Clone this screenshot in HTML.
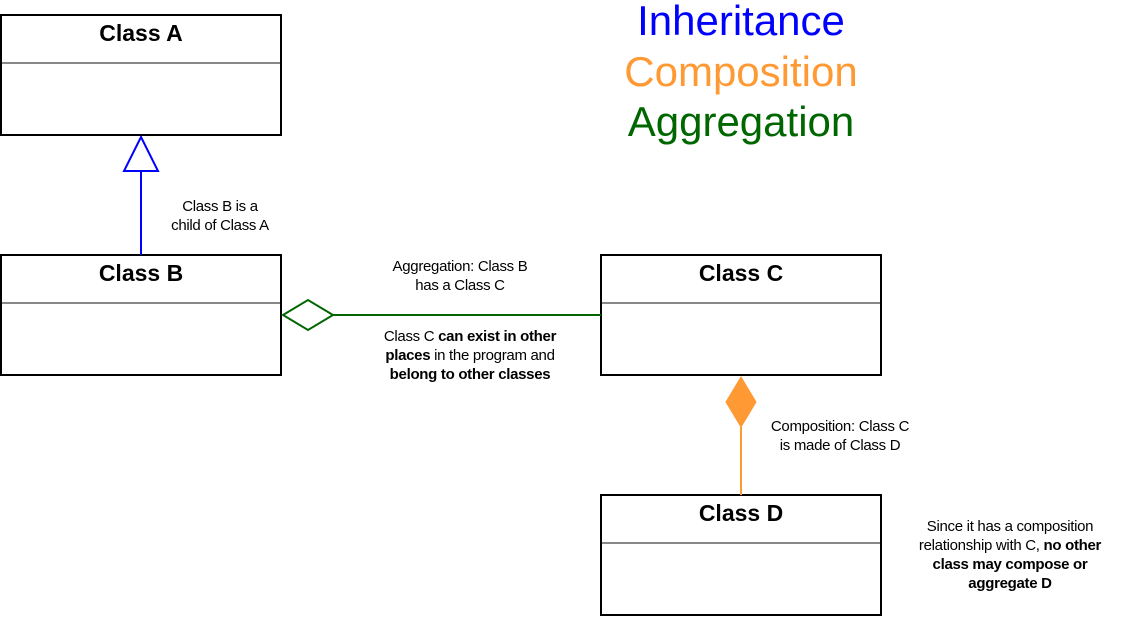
<!DOCTYPE html>
<html><head><style>
body{margin:0;background:#fff;width:1122px;height:636px;overflow:hidden}
svg text{font-family:"Liberation Sans",sans-serif}
</style></head><body>
<svg width="1122" height="636" xmlns="http://www.w3.org/2000/svg">
<g fill="#fff" stroke="#000" stroke-width="2">
<rect x="1" y="15" width="280" height="120"/>
<rect x="1" y="255" width="280" height="120"/>
<rect x="601" y="255" width="280" height="120"/>
<rect x="601" y="495" width="280" height="120"/>
</g>
<g stroke="#888" stroke-width="2">
<line x1="2" y1="63" x2="280" y2="63"/>
<line x1="2" y1="303" x2="280" y2="303"/>
<line x1="602" y1="303" x2="880" y2="303"/>
<line x1="602" y1="543" x2="880" y2="543"/>
</g>
<g font-weight="bold" font-size="23" text-anchor="middle">
<text x="141" y="41">Class A</text>
<text x="141" y="281">Class B</text>
<text x="741" y="281">Class C</text>
<text x="741" y="521">Class D</text>
</g>
<line x1="141" y1="171" x2="141" y2="255" stroke="#00f" stroke-width="2"/>
<polygon points="141,137 158,171 124,171" fill="#fff" stroke="#00f" stroke-width="2"/>
<line x1="333" y1="315" x2="601" y2="315" stroke="#006600" stroke-width="2"/>
<polygon points="283,315 308,300 333,315 308,330" fill="#fff" stroke="#006600" stroke-width="2"/>
<line x1="741" y1="427" x2="741" y2="495" stroke="#ff9933" stroke-width="2"/>
<polygon points="741,377 756,402 741,427 726,402" fill="#ff9933" stroke="#ff9933" stroke-width="1"/>
<g font-size="42" text-anchor="middle">
<text x="741" y="35" fill="#0000ff">Inheritance</text>
<text x="741" y="86" fill="#ff9933">Composition</text>
<text x="741" y="136" fill="#006600">Aggregation</text>
</g>
<g font-size="15" text-anchor="middle" letter-spacing="-0.3">
<text x="220" y="211">Class B is a</text>
<text x="220" y="230">child of Class A</text>
<text x="460" y="271">Aggregation: Class B</text>
<text x="460" y="290">has a Class C</text>
<text x="470" y="341">Class C <tspan font-weight="bold">can exist in other</tspan></text>
<text x="470" y="360"><tspan font-weight="bold">places</tspan> in the program and</text>
<text x="470" y="379" font-weight="bold">belong to other classes</text>
<text x="840" y="431">Composition: Class C</text>
<text x="840" y="450">is made of Class D</text>
<text x="1010" y="531">Since it has a composition</text>
<text x="1010" y="550">relationship with C, <tspan font-weight="bold">no other</tspan></text>
<text x="1010" y="569" font-weight="bold">class may compose or</text>
<text x="1010" y="588" font-weight="bold">aggregate D</text>
</g>
</svg>
</body></html>
